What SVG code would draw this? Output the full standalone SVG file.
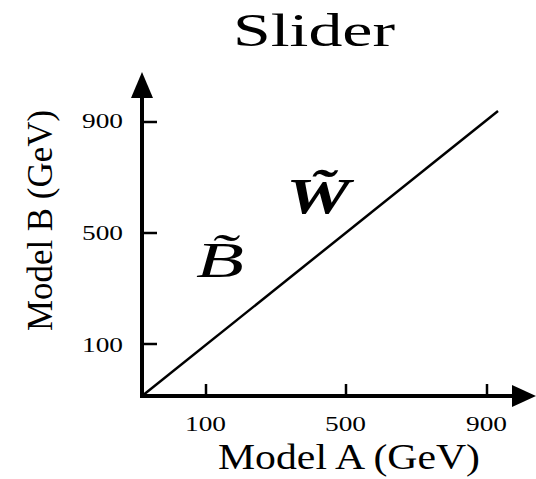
<svg xmlns="http://www.w3.org/2000/svg" width="536" height="479" viewBox="0 0 536 479">
<style>
text{font-family:"Liberation Serif","DejaVu Serif",serif;fill:#000}
.tick{font-size:21px}
.ax{stroke:#000;stroke-width:4;fill:none}
.tk{stroke:#000;stroke-width:2.5}
</style>
<rect width="536" height="479" fill="#fff"/>
<g id="title"><text x="233" y="46" font-size="46" textLength="162" lengthAdjust="spacingAndGlyphs">Slider</text></g>
<g id="connectors">
<line class="ax" x1="142" y1="398" x2="142" y2="95"/>
<polygon points="142,72 131,98 153,98" fill="#000"/>
<line class="ax" x1="140" y1="396" x2="516" y2="396"/>
<polygon points="536,396 512,385 512,407" fill="#000"/>
<line x1="142" y1="396" x2="498" y2="111" stroke="#000" stroke-width="2.5"/>
<line class="tk" x1="206" y1="384" x2="206" y2="396"/>
<line class="tk" x1="346" y1="384" x2="346" y2="396"/>
<line class="tk" x1="487" y1="384" x2="487" y2="396"/>
<line class="tk" x1="142" y1="122" x2="157" y2="122"/>
<line class="tk" x1="142" y1="233" x2="157" y2="233"/>
<line class="tk" x1="142" y1="344" x2="157" y2="344"/>
</g>
<g id="xlabels">
<text class="tick" x="185" y="431" textLength="41" lengthAdjust="spacingAndGlyphs">100</text>
<text class="tick" x="325" y="431" textLength="41" lengthAdjust="spacingAndGlyphs">500</text>
<text class="tick" x="466" y="431" textLength="41" lengthAdjust="spacingAndGlyphs">900</text>
<text x="218" y="469" font-size="36" textLength="262" lengthAdjust="spacingAndGlyphs">Model A (GeV)</text>
</g>
<g id="ylabels">
<text class="tick" x="82" y="128" textLength="41" lengthAdjust="spacingAndGlyphs">900</text>
<text class="tick" x="82" y="240" textLength="41" lengthAdjust="spacingAndGlyphs">500</text>
<text class="tick" x="82" y="352" textLength="41" lengthAdjust="spacingAndGlyphs">100</text>
<text transform="translate(52,331) rotate(-90)" font-size="36" textLength="221" lengthAdjust="spacingAndGlyphs">Model B (GeV)</text>
</g>
<g id="W">
<text x="286" y="213" font-size="50" font-weight="bold" font-style="italic" textLength="64" lengthAdjust="spacingAndGlyphs">W̃</text>
</g>
<g id="B">
<text x="196" y="277" font-size="50" font-style="italic" textLength="48" lengthAdjust="spacingAndGlyphs">B̃</text>
</g>
</svg>
